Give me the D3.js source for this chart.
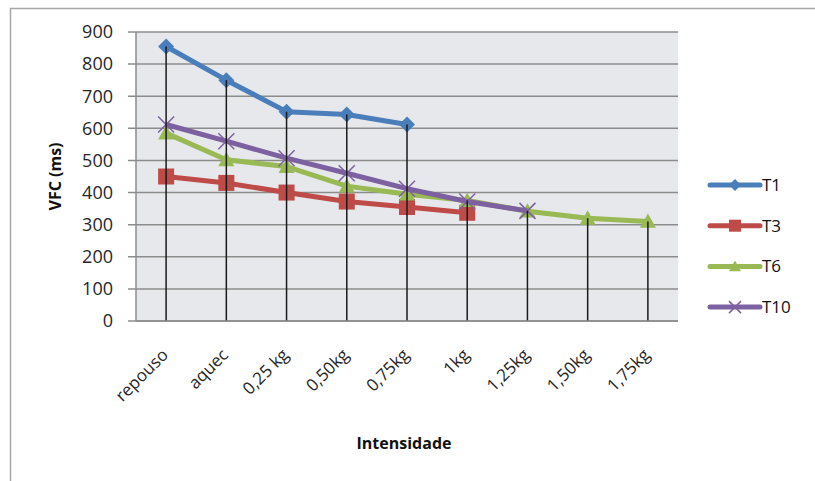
<!DOCTYPE html>
<html>
<head>
<meta charset="utf-8">
<script src="https://cdn.jsdelivr.net/npm/d3@7"></script>
<style>
  body { margin: 0; background: #fff; }
  svg { display: block; font-family: "Open Sans", Lato, sans-serif; }
</style>
</head>
<body>
<svg id="chart"></svg>
<script>
// data
const categories = ['repouso', 'aquec', '0,25 kg', '0,50kg', '0,75kg', '1kg', '1,25kg', '1,50kg', '1,75kg'];
const t1 = [855, 750, 652, 643, 612];
const t3 = [450, 430, 400, 372, 355, 337];
const t6 = [585, 502, 481, 420, 395, 375, 342, 320, 310];
const t10 = [612, 560, 507, 460, 412, 372, 343];
const yTicks = [0, 100, 200, 300, 400, 500, 600, 700, 800, 900];

const seriesList = [
  { name: 'T1', values: t1, color: '#4a7ebb', marker: 'diamond' },
  { name: 'T3', values: t3, color: '#be4b48', marker: 'square' },
  { name: 'T6', values: t6, color: '#98b954', marker: 'triangle' },
  { name: 'T10', values: t10, color: '#7d60a0', marker: 'x' }
];

const width = 815;
const height = 481;
const plot = { left: 136, right: 678, top: 32, bottom: 321 };

const svg = d3.select('#chart').attr('width', width).attr('height', height);

// outer frame (only top + left visible in reference)
svg.append('path')
  .attr('d', `M10.5,${height} V8.5 H${width}`)
  .attr('fill', 'none')
  .attr('stroke', '#a6a6a6')
  .attr('stroke-width', 1.5);

const x = d3.scaleBand().domain(categories).range([plot.left, plot.right]);
const y = d3.scaleLinear().domain([0, 900]).range([plot.bottom, plot.top]);
const cx = (i) => x(categories[i]) + x.bandwidth() / 2;

// plot background
svg.append('rect')
  .attr('x', plot.left).attr('y', plot.top)
  .attr('width', plot.right - plot.left).attr('height', plot.bottom - plot.top)
  .attr('fill', '#e7e8eb');

// gridlines
svg.append('g')
  .selectAll('line')
  .data(yTicks)
  .join('line')
  .attr('x1', plot.left - 8).attr('x2', plot.right)
  .attr('y1', (d) => y(d)).attr('y2', (d) => y(d))
  .attr('stroke', '#8c8c8c')
  .attr('stroke-width', 1.5);

// left axis line
svg.append('line')
  .attr('x1', plot.left).attr('x2', plot.left)
  .attr('y1', plot.top).attr('y2', plot.bottom)
  .attr('stroke', '#8c8c8c').attr('stroke-width', 1.5);

// y tick labels
svg.append('g')
  .selectAll('text')
  .data(yTicks)
  .join('text')
  .attr('x', 113)
  .attr('y', (d) => y(d))
  .attr('dy', '0.35em')
  .attr('text-anchor', 'end')
  .attr('font-size', '18px')
  .attr('fill', '#262626')
  .text((d) => d);

// x tick labels, rotated
svg.append('g')
  .selectAll('text')
  .data(categories)
  .join('text')
  .attr('transform', (d, i) => `translate(${cx(i) + 3},${plot.bottom + 35}) rotate(-45)`)
  .attr('text-anchor', 'end')
  .attr('font-size', '17px')
  .attr('fill', '#262626')
  .text((d) => d);

// axis titles
svg.append('text')
  .attr('transform', `translate(61,${(plot.top + plot.bottom) / 2}) rotate(-90)`)
  .attr('text-anchor', 'middle')
  .attr('font-size', '16px')
  .attr('font-weight', 'bold')
  .attr('fill', '#111')
  .text('VFC (ms)');

svg.append('text')
  .attr('x', 404)
  .attr('y', 449)
  .attr('text-anchor', 'middle')
  .attr('font-size', '16px')
  .attr('font-weight', 'bold')
  .attr('fill', '#111')
  .text('Intensidade');

// marker shapes
function drawMarker(g, marker, color, px, py, s) {
  if (marker === 'diamond') {
    g.append('path')
      .attr('d', `M${px},${py - s} L${px + s},${py} L${px},${py + s} L${px - s},${py} Z`)
      .attr('fill', color);
  } else if (marker === 'square') {
    g.append('rect')
      .attr('x', px - s).attr('y', py - s)
      .attr('width', 2 * s).attr('height', 2 * s)
      .attr('fill', color);
  } else if (marker === 'triangle') {
    g.append('path')
      .attr('d', `M${px},${py - s} L${px + s},${py + s * 0.8} L${px - s},${py + s * 0.8} Z`)
      .attr('fill', color);
  } else {
    g.append('path')
      .attr('d', `M${px - s},${py - s} L${px + s},${py + s} M${px - s},${py + s} L${px + s},${py - s}`)
      .attr('stroke', color)
      .attr('stroke-width', 1.5);
  }
}

const line = d3.line()
  .x((d, i) => cx(i))
  .y((d) => y(d));

seriesList.forEach((s) => {
  const g = svg.append('g');
  g.append('path')
    .datum(s.values)
    .attr('d', line)
    .attr('fill', 'none')
    .attr('stroke', s.color)
    .attr('stroke-width', 5)
    .attr('stroke-linejoin', 'round');
  s.values.forEach((v, i) => drawMarker(g, s.marker, s.color, cx(i), y(v), 8));
});

// drop lines from the highest point in each category
svg.append('g')
  .selectAll('line')
  .data(categories)
  .join('line')
  .attr('x1', (d, i) => cx(i)).attr('x2', (d, i) => cx(i))
  .attr('y1', (d, i) => y(d3.max(seriesList, (s) => s.values[i])))
  .attr('y2', plot.bottom)
  .attr('stroke', '#1a1a1a')
  .attr('stroke-width', 1.5);

// bottom axis line
svg.append('line')
  .attr('x1', plot.left).attr('x2', plot.right)
  .attr('y1', plot.bottom).attr('y2', plot.bottom)
  .attr('stroke', '#8c8c8c').attr('stroke-width', 1.5);

// legend
const legend = svg.append('g')
  .selectAll('g')
  .data(seriesList)
  .join('g')
  .attr('transform', (d, i) => `translate(710,${185 + i * 40.7})`);

legend.append('line')
  .attr('x1', 0).attr('x2', 50)
  .attr('stroke', (d) => d.color)
  .attr('stroke-width', 5)
  .attr('stroke-linecap', 'round');

legend.each(function (d) {
  drawMarker(d3.select(this), d.marker, d.color, 25, 0, 6);
});

legend.append('text')
  .attr('x', 52)
  .attr('dy', '0.35em')
  .attr('font-size', '17px')
  .attr('fill', '#111')
  .text((d) => d.name);
</script>
</body>
</html>
